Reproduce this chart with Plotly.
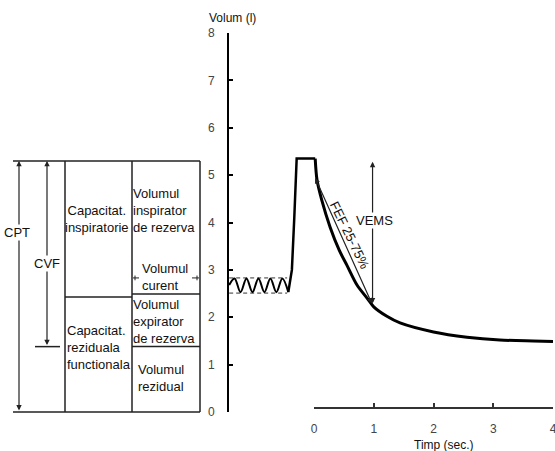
import plotly.graph_objects as go

# ---------------- data ----------------
volume_ticks = [0, 1, 2, 3, 4, 5, 6, 7, 8]
time_ticks = [0, 1, 2, 3, 4]

# tidal breathing before the forced manoeuvre (time s, volume l)
tidal_t = [-1.42, -1.33, -1.23, -1.13, -1.03, -0.93, -0.83, -0.73, -0.63, -0.53, -0.43]
tidal_v = [2.68, 2.82, 2.53, 2.82, 2.53, 2.82, 2.53, 2.82, 2.53, 2.82, 2.53]
tidal_limits = [2.83, 2.51]
tidal_span = [-1.42, -0.45]

# maximal inspiration and plateau
rise_t = [-0.43, -0.37, -0.33, -0.29, 0.02]
rise_v = [2.53, 3.0, 4.1, 5.35, 5.35]

# forced expiration
decay_t = [0.02, 0.05, 0.13, 0.27, 0.42, 0.55, 0.72, 0.89, 1.0, 1.22, 1.44, 2.0, 2.56, 3.11, 3.67, 4.0]
decay_v = [5.35, 4.9, 4.47, 3.9, 3.42, 3.1, 2.68, 2.40, 2.22, 2.02, 1.88, 1.69, 1.58, 1.52, 1.50, 1.49]

# FEF 25-75% chord and VEMS (FEV1) arrow
fef_t = [0.02, 0.98]
fef_v = [4.94, 2.26]
vems_t = 0.98
vems_v = [2.26, 5.28]

# lung volume compartments (l)
cpt_v = 5.30
rv_v = 1.38
frc_v = 2.43
erv_top_v = 2.49
vt_top_v = 2.83

# ---------------- layout geometry ----------------
OFF = 0
W, H = 555, 451
ML, MR, MT, MB = 0, 2, 33, 31
PW = W - ML - MR
PH = H - MT - MB
BOTTOM_PX = H - MB + OFF


def fx(px):
    return (px - OFF - ML) / PW


def fy(py):
    return (BOTTOM_PX - py) / PH


Y0_PX, Y8_PX = 412, 33
PX_PER_L = (Y0_PX - Y8_PX) / 8.0
T0_PX, T4_PX = 314, 553
PX_PER_S = (T4_PX - T0_PX) / 4.0
AX_PX = 229
x_min = -(T0_PX - AX_PX) / PX_PER_S
y2_min = -(BOTTOM_PX - Y0_PX) / PX_PER_L
X_RIGHT_PX = OFF + ML + PW
x_max = 4 + (X_RIGHT_PX - T4_PX) / PX_PER_S

# schematic x positions (left diagram, window-pixel units)
X_LEFT, X_CPT, X_CVF, X_C1, X_C2, X_C3 = 13, 19, 47, 65, 132, 200

FONT = "Liberation Sans, Arial, sans-serif"
INK = "#111111"
LINE = "#222222"

fig = go.Figure()

# ---- right panel: spirogram ----
for lim in tidal_limits:
    fig.add_trace(go.Scatter(x=tidal_span, y=[lim, lim], mode="lines",
                             line=dict(color="#333", width=1, dash="4px,3px"),
                             xaxis="x", yaxis="y", hoverinfo="skip"))
fig.add_trace(go.Scatter(x=tidal_t, y=tidal_v, mode="lines",
                         line=dict(color="black", width=2, shape="spline", smoothing=1),
                         xaxis="x", yaxis="y", hoverinfo="skip"))
fig.add_trace(go.Scatter(x=rise_t, y=rise_v, mode="lines",
                         line=dict(color="black", width=2.5),
                         xaxis="x", yaxis="y", hoverinfo="skip"))
fig.add_trace(go.Scatter(x=decay_t, y=decay_v, mode="lines",
                         line=dict(color="black", width=3, shape="spline", smoothing=0.8),
                         xaxis="x", yaxis="y", hoverinfo="skip"))
# helper trace so the time axis is drawn
fig.add_trace(go.Scatter(x=[0], y=[0], mode="markers", marker=dict(opacity=0),
                         xaxis="x2", yaxis="y", hoverinfo="skip"))


# ---- left panel: volume compartments ----
def seg(xs, ys, width=1.5):
    fig.add_trace(go.Scatter(x=xs, y=ys, mode="lines",
                             line=dict(color=LINE, width=width),
                             xaxis="x3", yaxis="y2", hoverinfo="skip"))


seg([X_LEFT, X_C3], [cpt_v, cpt_v])
seg([X_LEFT, X_C3], [0, 0])
for xc in (X_C1, X_C2, X_C3):
    seg([xc, xc], [0, cpt_v])
seg([X_C1, X_C2], [frc_v, frc_v])
seg([X_C2, X_C3], [erv_top_v, erv_top_v])
seg([X_C2, X_C3], [rv_v, rv_v])
seg([35, 60], [rv_v, rv_v])
# tidal volume bracket marks
seg([133, 139], [vt_top_v, vt_top_v], 1)
seg([135, 135], [vt_top_v - 0.05, vt_top_v + 0.05], 1)
seg([192, 199], [vt_top_v, vt_top_v], 1)
seg([197, 197], [vt_top_v - 0.05, vt_top_v + 0.05], 1)

ann = []


def arrow(xr, yr, x0, y0, x1, y1, w=1.2):
    ann.append(dict(xref=xr, yref=yr, axref=xr, ayref=yr, x=x1, y=y1, ax=x0, ay=y0,
                    text="", showarrow=True, arrowhead=2, startarrowhead=2,
                    arrowside="end+start", arrowsize=0.9, startarrowsize=0.9,
                    arrowwidth=w, arrowcolor=LINE, standoff=0, startstandoff=0))


arrow("x3", "y2", X_CPT, 0, X_CPT, cpt_v)
arrow("x3", "y2", X_CVF, rv_v, X_CVF, cpt_v)
arrow("x", "y", vems_t, vems_v[0], vems_t, vems_v[1])
arrow("x", "y", fef_t[1], fef_v[1], fef_t[0], fef_v[0])


def label(text, xr, yr, x, y, xanchor="center", align="center", bg=None, size=13, angle=0):
    d = dict(xref=xr, yref=yr, x=x, y=y, text=text, showarrow=False,
             xanchor=xanchor, yanchor="middle", align=align, textangle=angle,
             font=dict(family=FONT, size=size, color=INK), borderpad=0)
    if bg:
        d["bgcolor"] = bg
    ann.append(d)


label("CPT", "x3", "y2", 17, 3.78, bg="white", size=13)
label("CVF", "x3", "y2", 47, 3.14, bg="white")
label("Capacitat.<br>inspiratorie", "x3", "y2", 97, 4.07)
label("Capacitat.<br>reziduala<br>functionala", "x3", "y2", 66, 1.37, xanchor="left", align="left")
label("Volumul<br>inspirator<br>de rezerva", "x3", "y2", 132, 4.26, xanchor="left", align="left")
label("Volumul<br>curent", "x3", "y2", 141, 2.84, xanchor="left", align="left")
label("Volumul<br>expirator<br>de rezerva", "x3", "y2", 132, 1.90, xanchor="left", align="left")
label("Volumul<br>rezidual", "x3", "y2", 137, 0.72, xanchor="left", align="left")

label("VEMS", "x", "y", 1.01, 4.05, bg="white", size=13)
label("FEF 25-75%", "x", "y", 0.586, 3.74, size=13, angle=64)

label("Volum (l)", "paper", "paper", fx(232), fy(18), size=12)
label("Timp (sec.)", "x2", "paper", 2.18, fy(445), size=12)

axis_common = dict(showgrid=False, zeroline=False, automargin=False)

fig.update_layout(
    template="none",
    width=W, height=H,
    margin=dict(l=ML, r=MR, t=MT, b=MB, pad=0),
    paper_bgcolor="white", plot_bgcolor="rgba(0,0,0,0)",
    showlegend=False,
    hovermode=False,
    xaxis=dict(domain=[fx(AX_PX), 1], range=[x_min, x_max], visible=False, **axis_common),
    xaxis2=dict(domain=[fx(T0_PX), fx(T4_PX)], range=[0, 4], anchor="free", position=fy(408),
                tickmode="array", tickvals=time_ticks, ticktext=[str(t) for t in time_ticks],
                ticks="inside", ticklen=4, tickwidth=1.5, tickcolor="#333",
                showline=True, linewidth=1.5, linecolor="#333",
                tickfont=dict(family=FONT, size=12, color="#444"),
                ticklabelstandoff=10, ticklabeloverflow="allow", **axis_common),
    xaxis3=dict(domain=[0, fx(210)], range=[OFF, 210], visible=False, **axis_common),
    yaxis=dict(domain=[fy(Y0_PX), 1], range=[0, 8], anchor="x",
               tickmode="array", tickvals=volume_ticks, ticktext=[str(v) for v in volume_ticks],
               ticks="inside", ticklen=4, tickwidth=1.5, tickcolor="black",
               showline=True, linewidth=2, linecolor="black",
               tickfont=dict(family=FONT, size=12, color="#444"),
               ticklabelstandoff=10, ticklabeloverflow="allow", **axis_common),
    yaxis2=dict(domain=[0, 1], range=[y2_min, 8], anchor="x3", visible=False, **axis_common),
    annotations=ann,
)

fig.write_html("out.html",
               config={"displayModeBar": False},
               post_script="document.body.style.margin='0px';"
                           "document.body.style.overflow='hidden';")
